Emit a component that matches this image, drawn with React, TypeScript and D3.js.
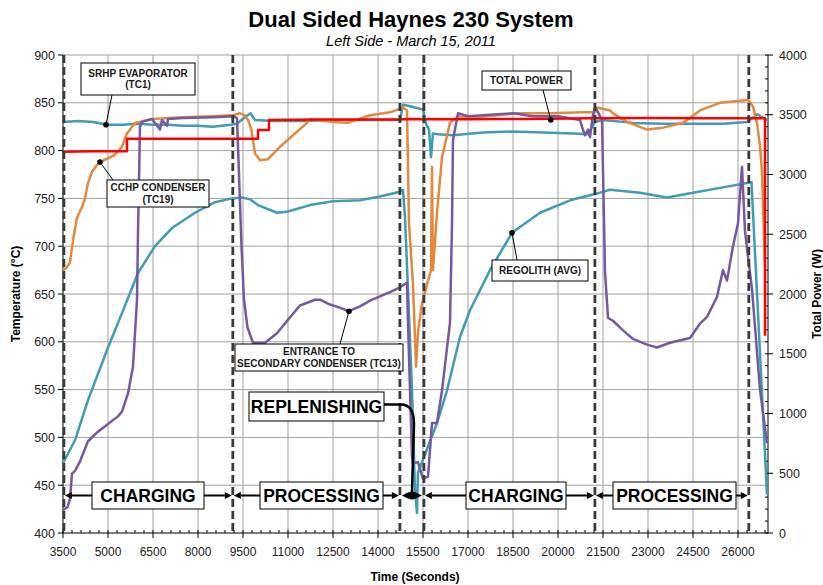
import React from 'react';
import * as d3 from 'd3';

// ---------- DATA ----------
const X_TICKS = [3500, 5000, 6500, 8000, 9500, 11000, 12500, 14000, 15500, 17000, 18500, 20000, 21500, 23000, 24500, 26000];
const TEMP_TICKS = [400, 450, 500, 550, 600, 650, 700, 750, 800, 850, 900];
const POWER_TICKS = [0, 500, 1000, 1500, 2000, 2500, 3000, 3500, 4000];

// SRHP evaporator (TC1) [time s, °C]
const srhpEvaporator: [number, number][] = [
  [3500, 830], [4000, 831], [4500, 830], [5000, 827], [5500, 827], [6000, 828], [6500, 827], [7000, 827],
  [7500, 826], [8000, 826], [8500, 825], [9100, 827], [9300, 828], [9600, 836], [9750, 839], [9900, 832],
  [10500, 831], [11500, 831], [12500, 832], [13500, 832], [14500, 832], [14733, 832], [14833, 848],
  [15000, 847], [15500, 843], [15600, 828], [15700, 822], [15767, 793], [15830, 818], [16000, 817],
  [16500, 816], [17500, 819], [18500, 820], [19500, 819], [20500, 818], [21000, 817], [21233, 830],
  [21500, 832], [22500, 829], [23500, 828], [24500, 828], [25500, 828], [26300, 830], [26650, 838],
  [26900, 833], [26967, 832],
];

// CCHP condenser (TC19) [time s, °C]
const cchpCondenser: [number, number][] = [
  [3500, 675], [3600, 677], [3733, 683], [3833, 706], [3967, 730], [4133, 741], [4233, 750], [4333, 766],
  [4467, 778], [4633, 785], [4733, 788], [5200, 795], [5467, 804], [5633, 818], [5900, 829], [6467, 833],
  [7500, 835], [8500, 836], [9167, 837], [9400, 839], [9550, 837], [9667, 832], [9780, 822], [9900, 797],
  [10067, 790], [10333, 791], [10733, 804], [11167, 816], [11633, 829], [11733, 833], [12500, 830],
  [13000, 829], [13733, 837], [14400, 840], [14833, 845], [14967, 842], [15033, 724], [15167, 660],
  [15267, 574], [15333, 610], [15467, 640], [15633, 660], [15767, 675], [15800, 783], [15833, 675],
  [15967, 735], [16133, 793], [16400, 829], [16667, 836], [17000, 834], [18633, 839], [19733, 839],
  [20833, 840], [21233, 840], [21300, 845], [21733, 842], [21833, 839], [22300, 830], [22967, 822],
  [23500, 824], [24167, 829], [24733, 842], [25400, 850], [26333, 853], [26500, 846], [26633, 829],
  [26733, 805], [26800, 778], [26900, 678],
];

// Total power [time s, W]
const totalPower: [number, number][] = [
  [3500, 3190], [4500, 3195], [5633, 3195], [5633, 3300], [8000, 3300], [10000, 3300], [10000, 3372],
  [10367, 3372], [10367, 3456], [12000, 3460], [14733, 3460], [15000, 3465], [17000, 3462], [19000, 3465],
  [21000, 3470], [23000, 3472], [25000, 3470], [26900, 3470], [26900, 1650],
];

// Entrance to secondary condenser (TC13) [time s, °C]
const secondaryEntrance: [number, number][] = [
  [3500, 424], [3650, 427], [3733, 436], [3800, 462], [3900, 465], [4067, 475], [4333, 496], [4667, 506],
  [5000, 514], [5333, 522], [5467, 527], [5667, 546], [5833, 574], [5967, 644], [6000, 714], [6067, 825],
  [6133, 830], [6467, 833], [6733, 822], [6800, 832], [6967, 826], [7000, 833], [7500, 834], [8500, 835],
  [9167, 836], [9300, 834], [9350, 790], [9450, 700], [9533, 644], [9650, 615], [9833, 599], [10233, 599],
  [10633, 609], [11000, 623], [11400, 638], [11900, 644], [12067, 644], [12400, 639], [12700, 636],
  [13033, 632], [13400, 637], [13733, 643], [14400, 652], [14733, 657], [14967, 662], [15000, 620],
  [15133, 480], [15167, 473], [15333, 474], [15500, 457], [15667, 459], [15800, 515], [15967, 515],
  [16133, 549], [16400, 620], [16467, 724], [16500, 811], [16667, 839], [17000, 836], [18000, 838],
  [18500, 839], [19167, 836], [20000, 836], [20733, 832], [20833, 822], [20900, 816], [21000, 822],
  [21067, 814], [21150, 835], [21233, 845], [21300, 842], [21467, 832], [21567, 673], [21667, 625],
  [21833, 622], [22167, 612], [22500, 603], [22967, 597], [23300, 594], [23733, 599], [24400, 604],
  [24733, 619], [24967, 626], [25300, 647], [25500, 675], [25633, 664], [25833, 700], [26000, 724],
  [26133, 783], [26233, 716], [26333, 689], [26467, 655], [26733, 550], [26967, 494],
];

// Regolith (avg) [time s, °C]
const regolith: [number, number][] = [
  [3500, 473], [3900, 497], [4333, 539], [5000, 594], [5467, 630], [6000, 672], [6567, 700], [7133, 719],
  [7900, 735], [8567, 746], [9133, 750], [9467, 751], [9733, 749], [10000, 743], [10633, 735], [10967, 736],
  [11733, 743], [12500, 747], [13400, 748], [14067, 752], [14733, 757], [14833, 759], [14900, 730],
  [15000, 654], [15133, 550], [15233, 445], [15300, 421], [15333, 463], [15967, 515], [16300, 549],
  [16733, 605], [17067, 633], [17733, 675], [18467, 714], [19400, 735], [20400, 748], [21400, 756],
  [21733, 759], [22733, 756], [23633, 751], [24500, 756], [25400, 761], [26450, 767], [26967, 440],
];

const PHASE_BOUNDARIES = [3530, 9160, 14730, 15530, 21230, 26360];

// ---------- LAYOUT ----------
const W = 823, H = 585;
const L = 63, R = 768, T = 55, B = 533;
const FONT = '"Liberation Sans", Arial, Helvetica, sans-serif';
const TEAL = '#3d9db3';
const ORANGE = '#e2893c';
const PURPLE = '#7558a0';
const RED = '#ff0000';

const x = d3.scaleLinear().domain([3500, 27000]).range([L, R]);
const yT = d3.scaleLinear().domain([400, 900]).range([B, T]);
const yP = d3.scaleLinear().domain([0, 4000]).range([B, T]);

const tempLine = d3.line<[number, number]>().x(d => x(d[0])).y(d => yT(d[1]));
const powerLine = d3.line<[number, number]>().x(d => x(d[0])).y(d => yP(d[1]));

const minorX = d3.range(3500, 27001, 300);
const minorP = d3.range(0, 4001, 100);

function Arrow({ x1, x2, y }: { x1: number; x2: number; y: number }) {
  // arrow head at x2
  const dir = x2 > x1 ? 1 : -1;
  const len = 7, hw = 3.5;
  return (
    <g>
      <line x1={x1} y1={y} x2={x2 - dir * len} y2={y} stroke="#000" strokeWidth={2} />
      <polygon points={`${x2},${y} ${x2 - dir * len},${y - hw} ${x2 - dir * len},${y + hw}`} fill="#000" />
    </g>
  );
}

function Callout({ x0, y0, x1, y1, lines, size = 10 }: { x0: number; y0: number; x1: number; y1: number; lines: string[]; size?: number }) {
  const cx = (x0 + x1) / 2;
  const cy = (y0 + y1) / 2;
  const lh = size * 1.15;
  const start = cy - ((lines.length - 1) * lh) / 2;
  return (
    <g>
      <rect x={x0} y={y0} width={x1 - x0} height={y1 - y0} fill="#fff" stroke="#000" strokeWidth={1} />
      {lines.map((s, i) => (
        <text key={i} x={cx} y={start + i * lh + size * 0.36} textAnchor="middle" fontFamily={FONT}
          fontWeight="bold" fontSize={size} fill="#1a1a1a">{s}</text>
      ))}
    </g>
  );
}

export default function App() {
  const by = 495.5;
  const phaseBoxes = [
    { label: 'CHARGING', from: 0, x0: 92, x1: 204 },
    { label: 'PROCESSING', from: 1, x0: 260, x1: 383 },
    { label: 'CHARGING', from: 3, x0: 466, x1: 566 },
    { label: 'PROCESSING', from: 4, x0: 613, x1: 736 },
  ];
  const dots = [
    { t: 4933, v: 827, p: false },
    { t: 4733, v: 788, p: false },
    { t: 13033, v: 632, p: false },
    { t: 19760, v: 3456, p: true },
    { t: 18467, v: 714, p: false },
  ];
  const dp = dots.map(d => [x(d.t), d.p ? yP(d.v) : yT(d.v)]);
  const rx2 = x(PHASE_BOUNDARIES[2]);
  const rx3 = x(PHASE_BOUNDARIES[3]);
  const rmid = (rx2 + rx3) / 2;

  return (
    <svg width={W} height={H} style={{ position: 'absolute', left: 0, top: 0, background: '#fff' }}>
      <rect x={0} y={0} width={W} height={H} fill="#fff" />
      {/* title */}
      <text x={411} y={27} textAnchor="middle" fontFamily={FONT} fontWeight="bold" fontSize={22} fill="#000">Dual Sided Haynes 230 System</text>
      <text x={411} y={46} textAnchor="middle" fontFamily={FONT} fontStyle="italic" fontSize={14.5} fill="#000">Left Side - March 15, 2011</text>

      {/* grid */}
      {TEMP_TICKS.filter(v => v > 400).map(v => (
        <line key={'gy' + v} x1={L} x2={R} y1={yT(v)} y2={yT(v)} stroke="#a0a0a0" strokeWidth={1} />
      ))}
      {X_TICKS.filter(v => v > 3500).map(v => (
        <line key={'gx' + v} x1={x(v)} x2={x(v)} y1={T} y2={B} stroke="#a0a0a0" strokeWidth={1} />
      ))}

      {/* axes */}
      <line x1={L} x2={L} y1={T} y2={B} stroke="#000" />
      <line x1={R} x2={R} y1={T} y2={B} stroke="#000" />
      <line x1={L} x2={R} y1={B} y2={B} stroke="#000" />
      {TEMP_TICKS.map(v => (
        <g key={'lt' + v}>
          <line x1={L - 5} x2={L} y1={yT(v)} y2={yT(v)} stroke="#000" />
          <text x={55} y={yT(v) + 4.5} textAnchor="end" fontFamily={FONT} fontSize={12.5} fill="#222">{v}</text>
        </g>
      ))}
      {minorP.map(v => (
        <line key={'mp' + v} x1={R - 3} x2={R} y1={yP(v)} y2={yP(v)} stroke="#000" />
      ))}
      {POWER_TICKS.map(v => (
        <g key={'rt' + v}>
          <line x1={R} x2={R + 5} y1={yP(v)} y2={yP(v)} stroke="#000" />
          <text x={779} y={yP(v) + 4.5} textAnchor="start" fontFamily={FONT} fontSize={12.5} fill="#222">{v}</text>
        </g>
      ))}
      {minorX.map(v => (
        <line key={'mx' + v} x1={x(v)} x2={x(v)} y1={B - 3} y2={B} stroke="#000" />
      ))}
      {X_TICKS.map(v => (
        <g key={'xt' + v}>
          <line x1={x(v)} x2={x(v)} y1={B} y2={B + 5} stroke="#000" />
          <text x={x(v)} y={556} textAnchor="middle" fontFamily={FONT} fontSize={12} fill="#222">{v}</text>
        </g>
      ))}
      <text x={415} y={581} textAnchor="middle" fontFamily={FONT} fontWeight="bold" fontSize={12} fill="#000">Time (Seconds)</text>
      <text transform="translate(20,294) rotate(-90)" textAnchor="middle" fontFamily={FONT} fontWeight="bold" fontSize={12} fill="#000">Temperature (°C)</text>
      <text transform="translate(821,294) rotate(-90)" textAnchor="middle" fontFamily={FONT} fontWeight="bold" fontSize={12} fill="#000">Total Power (W)</text>

      {/* data */}
      <g fill="none" strokeWidth={2.5} strokeLinejoin="round">
        <path d={tempLine(regolith) || ''} stroke={TEAL} />
        <path d={tempLine(srhpEvaporator) || ''} stroke={TEAL} />
        <path d={tempLine(cchpCondenser) || ''} stroke={ORANGE} />
        <path d={tempLine(secondaryEntrance) || ''} stroke={PURPLE} />
        <path d={powerLine(totalPower) || ''} stroke={RED} />
      </g>

      {/* phase boundaries */}
      {PHASE_BOUNDARIES.map((t, i) => (
        <line key={'pb' + i} x1={x(t)} x2={x(t)} y1={T} y2={B} stroke="#3a3a3a" strokeWidth={2.8} strokeDasharray="8,4" />
      ))}

      {/* phase labels */}
      {phaseBoxes.map((p, i) => {
        const a = x(PHASE_BOUNDARIES[p.from]) + 1;
        const b = x(PHASE_BOUNDARIES[p.from + 1]) - 1;
        return (
          <g key={'ph' + i}>
            <Arrow x1={p.x0} x2={a} y={by} />
            <Arrow x1={p.x1} x2={b} y={by} />
            <rect x={p.x0} y={482} width={p.x1 - p.x0} height={27} fill="#fff" stroke="#000" strokeWidth={1} />
            <text x={(p.x0 + p.x1) / 2} y={by + 6.3} textAnchor="middle" fontFamily={FONT} fontWeight="bold" fontSize={17.5} fill="#000">{p.label}</text>
          </g>
        );
      })}
      {/* replenishing */}
      <Arrow x1={rmid} x2={rx2 + 2} y={by} />
      <Arrow x1={rmid} x2={rx3 - 2} y={by} />
      <path d={`M384,404.5 L401,404.5 Q414,404.5 414,424 L${rmid},${by}`} fill="none" stroke="#000" strokeWidth={2.5} />
      <circle cx={rmid} cy={by} r={4} fill="#000" />
      <rect x={249} y={392} width={135} height={29} fill="#fff" stroke="#000" strokeWidth={1} />
      <text x={316.5} y={412.8} textAnchor="middle" fontFamily={FONT} fontWeight="bold" fontSize={17.5} fill="#000">REPLENISHING</text>

      {/* callouts */}
      <line x1={112} y1={95} x2={dp[0][0]} y2={dp[0][1]} stroke="#000" strokeWidth={1} />
      <line x1={113} y1={180} x2={dp[1][0]} y2={dp[1][1]} stroke="#000" strokeWidth={1} />
      <line x1={340} y1={344} x2={dp[2][0]} y2={dp[2][1]} stroke="#000" strokeWidth={1} />
      <line x1={543} y1={90} x2={dp[3][0]} y2={dp[3][1]} stroke="#000" strokeWidth={1} />
      <line x1={517} y1={260} x2={dp[4][0]} y2={dp[4][1]} stroke="#000" strokeWidth={1} />
      {dp.map((d, i) => <circle key={'d' + i} cx={d[0]} cy={d[1]} r={2.8} fill="#000" />)}
      <Callout x0={81} y0={63} x1={195} y1={95} lines={['SRHP EVAPORATOR', '(TC1)']} />
      <Callout x0={107} y0={180} x1={209} y1={207} lines={['CCHP CONDENSER', '(TC19)']} />
      <Callout x0={235} y0={344} x1={403} y1={371} lines={['ENTRANCE TO', 'SECONDARY CONDENSER (TC13)']} />
      <Callout x0={482} y0={71} x1={571} y1={90} lines={['TOTAL POWER']} />
      <Callout x0={492} y0={260} x1={588} y1={281} lines={['REGOLITH (AVG)']} />
    </svg>
  );
}
